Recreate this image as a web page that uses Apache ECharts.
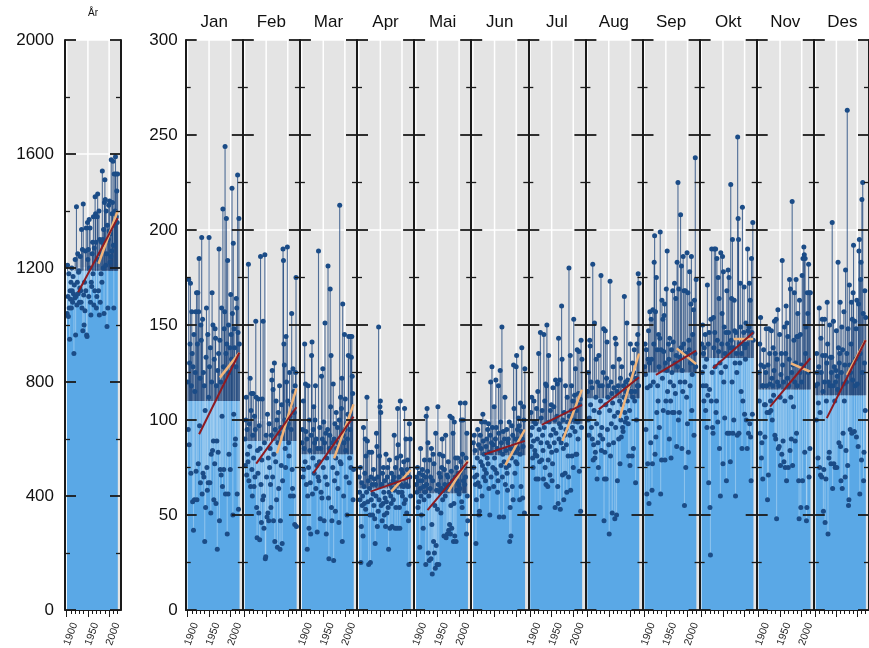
<!DOCTYPE html>
<html><head><meta charset="utf-8">
<script src="https://cdn.jsdelivr.net/npm/echarts@6/dist/echarts.min.js"></script>
<style>html,body{margin:0;padding:0;background:#fff}#c{width:869px;height:648px}</style>
</head><body><div id="c"></div><script>
const startYear = 1901;
const monthNames = ['Jan','Feb','Mar','Apr','Mai','Jun','Jul','Aug','Sep','Okt','Nov','Des'];
const yearTitle = 'År';
const yearTickLabels = [1900, 1950, 2000];
const decadeTicks = [1900,1910,1920,1930,1940,1950,1960,1970,1980,1990,2000,2010,2020];

const jan = [120,95,174,87,130,140,172,72,118,157,135,57,128,42,145,58,115,125,157,73,167,58,140,167,77,157,185,97,122,67,150,142,196,61,153,72,125,70,118,36,105,54,133,159,75,63,145,67,112,196,128,67,138,51,82,120,167,84,150,89,58,132,77,148,143,56,118,89,32,126,83,135,190,47,142,74,120,71,159,102,65,211,128,74,148,157,244,61,135,206,140,40,184,61,150,82,125,138,74,166,145,132,222,156,50,193,103,148,138,87,90,128,164,159,61,229,146,53,206,140];
const feb = [90,76,100,112,71,95,82,78,182,68,98,86,122,65,105,114,74,60,92,114,80,65,102,70,95,152,112,54,38,84,72,111,51,97,37,85,186,66,46,79,111,58,152,60,43,88,187,27,28,92,70,49,103,51,80,47,98,75,85,66,54,92,121,126,70,116,47,82,130,36,95,78,110,58,100,33,88,104,64,93,118,32,47,96,76,108,35,68,190,184,140,129,100,85,75,144,120,96,191,110,98,88,81,125,102,60,108,95,156,74,64,127,60,115,104,45,118,125,175,44];
const mar = [88,95,70,110,74,85,140,78,119,94,66,90,32,60,118,75,43,100,84,67,40,92,134,141,61,80,95,107,72,88,100,118,64,90,76,41,85,70,189,68,78,96,48,85,62,123,59,90,127,75,99,47,88,151,70,93,40,80,66,95,181,59,27,85,92,169,107,134,54,47,88,75,119,26,90,68,98,52,80,104,85,72,96,64,88,46,100,213,78,112,77,106,122,36,161,92,60,88,145,95,111,84,70,98,50,90,103,134,144,67,80,95,144,75,133,144,123,114,58,74];
const apr = [70,62,58,75,25,44,67,55,60,39,96,65,56,72,90,53,81,62,112,89,57,68,24,83,64,50,25,70,58,83,66,50,61,74,55,69,48,35,66,60,93,86,44,70,52,149,58,81,107,110,104,55,66,47,72,56,75,62,50,68,59,44,82,57,51,70,75,54,32,62,79,43,66,60,56,72,44,64,68,58,70,92,63,43,75,54,67,80,43,106,87,62,70,54,43,110,81,66,74,62,60,72,65,78,56,106,70,58,90,66,51,74,79,65,47,24,98,70,90,60];
const mai = [66,70,62,75,54,68,57,72,33,64,85,60,50,68,74,71,43,65,58,79,62,70,24,102,66,106,73,88,30,60,26,79,64,70,27,85,45,19,68,82,36,77,30,55,22,93,34,63,24,53,107,66,24,72,82,62,70,51,64,75,90,58,81,63,39,74,66,60,92,38,64,71,40,70,78,42,66,45,102,40,55,73,43,101,68,93,36,56,99,39,70,80,36,75,63,68,80,72,66,61,72,64,109,78,100,57,54,82,100,68,75,75,66,109,70,80,40,93,60,47];
const jun = [88,75,92,70,84,66,35,58,71,80,95,67,87,50,52,65,92,78,85,99,60,76,103,89,70,82,74,99,68,86,72,90,80,95,77,98,64,83,50,92,120,70,88,128,96,75,87,65,107,80,74,90,121,96,72,85,62,68,118,93,49,84,126,99,76,88,149,70,82,94,49,78,90,112,66,84,75,95,72,63,88,90,76,99,36,54,85,39,80,97,65,92,58,129,106,83,72,90,78,128,134,77,95,85,101,90,97,58,82,109,65,94,138,90,59,86,107,100,51,127];
const jul = [92,104,86,112,96,80,75,89,110,99,84,82,98,69,106,81,90,115,69,135,95,78,54,146,88,101,79,105,92,84,69,145,96,110,75,119,66,118,150,88,65,79,134,99,86,71,105,92,108,83,68,77,117,95,107,88,100,54,121,93,84,102,119,65,56,143,90,98,121,53,96,88,160,132,71,100,85,58,104,92,72,118,95,87,62,112,99,81,70,180,102,92,134,63,105,118,81,96,110,75,153,100,113,94,127,82,105,82,137,99,90,114,136,73,108,111,52,142,96,132];
const aug = [115,100,125,92,101,142,139,108,120,96,117,90,182,79,87,105,151,80,83,112,132,98,69,120,88,75,134,104,118,92,110,176,84,96,118,90,125,148,47,69,83,147,108,69,122,141,95,112,118,87,40,105,173,81,120,98,114,51,109,128,88,117,102,48,143,96,140,50,115,68,104,118,90,132,110,77,122,100,91,128,108,96,94,118,112,165,104,99,120,115,101,151,110,121,98,81,118,105,76,140,115,124,115,81,130,112,85,125,137,110,115,67,122,100,140,118,145,177,118,172];
const sep = [128,140,124,95,137,61,117,77,132,147,56,130,157,118,88,153,132,63,77,158,120,140,183,197,82,157,91,175,104,137,118,110,145,128,96,143,199,61,137,79,163,122,153,105,136,155,161,79,130,110,169,126,189,115,104,140,132,90,143,120,110,80,137,125,104,168,141,118,104,172,130,114,164,134,86,183,128,225,100,169,104,133,120,208,138,181,85,126,115,186,140,168,55,120,168,75,135,112,188,98,167,83,142,137,178,118,130,161,186,105,124,145,130,158,92,163,135,238,128,174];
const okt = [140,125,150,118,135,110,138,128,145,105,118,132,96,171,113,140,67,146,116,54,29,153,110,190,125,96,93,154,138,190,146,128,190,104,110,185,142,99,175,136,164,85,130,60,188,125,140,156,186,77,178,120,149,101,135,128,146,68,168,93,140,179,146,175,93,138,78,224,142,164,120,195,93,138,100,163,147,130,60,146,135,125,92,249,206,195,93,140,130,172,149,115,135,85,212,110,140,146,170,103,138,132,151,100,140,85,190,147,93,149,172,98,163,91,68,185,146,103,204,142];
const nov = [125,110,140,93,154,129,80,88,118,69,118,137,128,108,91,108,125,148,118,104,58,129,71,148,104,135,119,110,105,147,122,100,118,138,113,126,152,92,135,90,153,48,132,120,158,85,118,86,145,112,76,124,135,82,184,129,89,120,78,149,110,75,135,160,68,151,122,144,75,118,132,174,84,169,112,90,125,215,76,129,107,142,167,120,89,130,174,93,144,118,156,144,68,48,163,125,145,54,129,120,176,68,185,128,191,187,83,185,135,149,47,54,167,156,125,182,70,167,85,167];
const des = [118,100,135,125,119,80,109,128,159,75,104,71,143,125,70,153,134,115,52,74,120,153,46,134,69,110,130,162,140,40,120,80,83,150,118,133,77,125,133,204,64,118,152,77,128,110,75,120,126,147,75,123,116,183,138,88,130,135,162,86,68,125,149,64,137,93,119,157,110,129,70,179,84,120,135,263,76,148,55,58,171,129,95,125,140,162,93,153,121,167,192,130,94,152,118,132,148,91,163,119,133,86,161,189,195,61,135,174,183,79,216,125,225,156,68,83,130,168,105,154];
const annual = [1040,1210,1100,1030,1180,1060,950,1120,1090,1150,1060,1200,1120,1080,1170,1110,900,1140,1095,1230,965,1100,1415,1070,1150,1250,1110,1185,1190,1080,1130,1240,1120,1080,1335,1060,1265,980,1425,1105,1000,1150,1050,1260,1120,1340,965,960,1360,1230,1265,1100,1370,1200,1340,1080,1035,1150,1135,1250,1290,1180,1380,1070,1270,1120,1450,1390,1290,1060,1100,1380,1460,1230,1120,1400,1035,1300,1080,1250,1180,1290,1150,1540,1300,1200,1335,1040,1430,1510,1440,1210,1400,1250,995,1350,1060,1300,1420,1330,1435,1220,1320,1240,1580,1260,1390,1430,1575,1280,1060,1530,1350,1400,1590,1530,1380,1470,1360,1530];

const monthNormals = [110, 89, 82, 64, 61.5, 81.5, 98, 111.5, 125, 132.6, 116, 113];
const annualNormal = 1190;

// trend lines: [startYear, endYear] and values at both ends
const redYears = [1927, 2020];
const orangeYears = [1975, 2020];
const redStart    = [92.5, 77, 72, 62.3, 52.6, 82, 97.4, 105.6, 123.7, 127.2, 107, 101];
const redEnd      = [135.4, 106.7, 101.8, 69.8, 78, 89, 108, 122.5, 136.5, 146, 132.5, 142];
const orangeStart = [122.3, 82.5, 79.8, 62.3, 62.3, 76.3, 89, 101, 137.7, 142.6, 129.8, 123.7];
const orangeEnd   = [135.4, 116.7, 108.2, 73.7, 78.6, 95, 116, 135, 129.5, 142.6, 125.4, 142];
const annualRed = [1115, 1375];
const annualOrange = [1215, 1400];

const monthSeries = [jan, feb, mar, apr, mai, jun, jul, aug, sep, okt, nov, des];

// ---- layout ----
const TOP = 40, HEIGHT = 570;
const XMIN = 1896, XMAX = 2028;
const FONT = 'Liberation Sans, Arial, Helvetica, sans-serif';

const panels = [{
  title: yearTitle, values: annual, normal: annualNormal, ymax: 2000, yint: 400, gridStep: 400,
  left: 65, width: 56, showX: true, showY: true, labelMargin: 11,
  red: annualRed, orange: annualOrange, titleSize: 10, titleY: 13
}];
monthNames.forEach((m, i) => {
  panels.push({
    title: m, values: monthSeries[i], normal: monthNormals[i], ymax: 300, yint: 50, gridStep: 100,
    left: 185.7 + 57.1 * i, width: 57.1, showX: i % 2 === 0, showY: i === 0, labelMargin: 8,
    red: [redStart[i], redEnd[i]], orange: [orangeStart[i], orangeEnd[i]], titleSize: 17, titleY: 22
  });
});

const grid = [], xAxis = [], yAxis = [], series = [], graphic = [];
const axisColor = '#1a1a1a';
const plain = v => String(v);
const LABEL_ROT = 70 * Math.PI / 180;

panels.forEach((p, gi) => {
  grid.push({ left: p.left, top: TOP, width: p.width, height: HEIGHT, show: true,
    backgroundColor: '#e4e4e4', borderWidth: 0, containLabel: false });
  xAxis.push({ gridIndex: gi, type: 'value', min: XMIN, max: XMAX, position: 'bottom', z: 10,
    axisLine: { show: true, onZero: false, lineStyle: { color: axisColor, width: 1 } },
    axisTick: { show: true, length: 7, customValues: yearTickLabels, lineStyle: { color: axisColor, width: 1 } },
    axisLabel: { show: false }, splitLine: { show: false } });
  xAxis.push({ gridIndex: gi, type: 'value', min: XMIN, max: XMAX, position: 'bottom', z: 10,
    axisLine: { show: false, onZero: false },
    axisTick: { show: true, length: 4, customValues: decadeTicks, lineStyle: { color: axisColor, width: 1 } },
    axisLabel: { show: false }, splitLine: { show: false } });
  ['left', 'right'].forEach((pos) => {
    yAxis.push({ gridIndex: gi, type: 'value', min: 0, max: p.ymax, interval: p.yint, position: pos, z: 10,
      axisLine: { show: true, lineStyle: { color: axisColor, width: 2 } },
      axisTick: { show: true, inside: true, length: 11, lineStyle: { color: axisColor, width: 1.8 } },
      minorTick: { show: true, splitNumber: 2, length: 5, lineStyle: { color: axisColor, width: 1.3 } },
      axisLabel: { show: pos === 'left' && p.showY, fontSize: 17, color: '#111', fontFamily: FONT,
        margin: p.labelMargin, formatter: plain },
      splitLine: { show: false } });
  });
  const xi = gi * 2, yi = gi * 2;
  const first = startYear, last = startYear + p.values.length - 1;
  series.push({ type: 'custom', xAxisIndex: xi, yAxisIndex: yi, z: 1, silent: true,
    data: [[first, 0]], encode: { x: 0, y: 1 },
    renderItem: (params, api) => {
      const ch = [];
      yearTickLabels.forEach(yr => {
        const a = api.coord([yr, 0]), b = api.coord([yr, p.ymax]);
        ch.push({ type: 'line', shape: { x1: a[0], y1: a[1], x2: b[0], y2: b[1] }, style: { stroke: '#ffffff', lineWidth: 1.5 } });
      });
      for (let v = p.gridStep; v <= p.ymax; v += p.gridStep) {
        const a = api.coord([XMIN, v]), b = api.coord([XMAX, v]);
        ch.push({ type: 'line', shape: { x1: a[0], y1: a[1], x2: b[0], y2: b[1] }, style: { stroke: '#ffffff', lineWidth: 1.5 } });
      }
      const r0 = api.coord([first - 0.5, p.normal]), r1 = api.coord([last + 0.5, 0]);
      ch.push({ type: 'rect', shape: { x: r0[0], y: r0[1], width: r1[0] - r0[0], height: r1[1] - r0[1] }, style: { fill: '#5aa8e6' } });
      return { type: 'group', children: ch };
    } });
  const pts = p.values.map((v, k) => [startYear + k, v]);
  series.push({ type: 'custom', xAxisIndex: xi, yAxisIndex: yi, z: 3, silent: true,
    data: pts, encode: { x: 0, y: 1 },
    renderItem: (params, api) => {
      const x = api.value(0), v = api.value(1);
      const a = api.coord([x, p.normal]), b = api.coord([x, v]);
      return { type: 'line', shape: { x1: a[0], y1: a[1], x2: b[0], y2: b[1] },
        style: { stroke: v >= p.normal ? 'rgba(22,64,120,0.72)' : 'rgba(255,255,255,0.3)', lineWidth: 1.1 } };
    } });
  series.push({ type: 'scatter', xAxisIndex: xi, yAxisIndex: yi, z: 4, silent: true,
    data: pts, symbolSize: 5, itemStyle: { color: '#1b4c87', opacity: 1 } });
  series.push({ type: 'line', xAxisIndex: xi, yAxisIndex: yi, z: 5, silent: true, symbol: 'none',
    data: [[orangeYears[0], p.orange[0]], [orangeYears[1], p.orange[1]]],
    lineStyle: { color: '#f2b57a', width: 2.5 } });
  series.push({ type: 'line', xAxisIndex: xi, yAxisIndex: yi, z: 6, silent: true, symbol: 'none',
    data: [[redYears[0], p.red[0]], [redYears[1], p.red[1]]],
    lineStyle: { color: '#8e1b22', width: 2 } });
  if (p.showX) {
    series.push({ type: 'custom', xAxisIndex: xi, yAxisIndex: yi, z: 10, silent: true, clip: false,
      data: yearTickLabels.map(y => [y, 0]), encode: { x: 0, y: 1 },
      renderItem: (params, api) => {
        const c = api.coord([api.value(0), 0]);
        return { type: 'text', x: c[0] + 4, y: c[1] + 24, rotation: LABEL_ROT,
          style: { text: String(api.value(0)), fontSize: 10.5, fontFamily: FONT, fill: '#222',
            align: 'center', verticalAlign: 'middle' } };
      } });
  }
  graphic.push({ type: 'text', silent: true, x: p.left + p.width / 2, y: p.titleY,
    style: { text: p.title, fontSize: p.titleSize, fontFamily: FONT, fill: '#111', align: 'center', verticalAlign: 'middle' } });
});

const chart = echarts.init(document.getElementById('c'), null, { renderer: 'canvas' });
chart.setOption({
  animation: false, backgroundColor: '#ffffff',
  grid, xAxis, yAxis, series, graphic
});
</script></body></html>
